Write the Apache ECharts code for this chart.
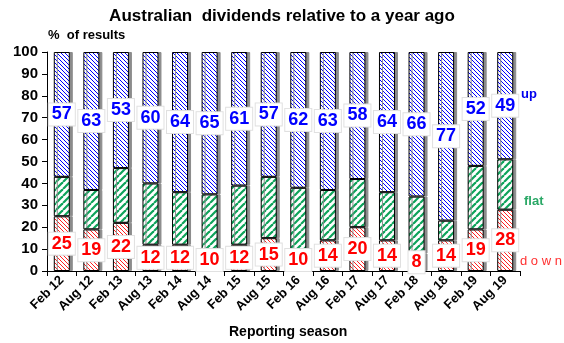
<!DOCTYPE html>
<html><head><meta charset="utf-8">
<script src="https://cdn.jsdelivr.net/npm/echarts@6/dist/echarts.min.js"></script>
<style>html,body{margin:0;padding:0;background:#fff}#c{width:564px;height:343px}</style>
</head><body><div id="c"></div>
<script>
var categories = ['Feb 12','Aug 12','Feb 13','Aug 13','Feb 14','Aug 14','Feb 15','Aug 15','Feb 16','Aug 16','Feb 17','Aug 17','Feb 18','Aug 18','Feb 19','Aug 19'];
var downVals = [25,19,22,12,12,10,12,15,10,14,20,14,8,14,19,28];
var flatVals = [18,18,25,28,24,25,27,28,28,23,22,22,26,9,29,23];
var upVals   = [57,63,53,60,64,65,61,57,62,63,58,64,66,77,52,49];
var yTicks = [0,10,20,30,40,50,60,70,80,90,100];

function hatch(color, size, lw, dir) {
  var c = document.createElement('canvas');
  c.width = size; c.height = size;
  var g = c.getContext('2d');
  g.fillStyle = '#fff'; g.fillRect(0,0,size,size);
  g.strokeStyle = color; g.lineWidth = lw;
  for (var k = -1; k <= 1; k++) {
    g.beginPath();
    if (dir === 'back') { g.moveTo(k*size, 0); g.lineTo(k*size+size, size); }
    else { g.moveTo(k*size, size); g.lineTo(k*size+size, 0); }
    g.stroke();
  }
  return {image: c, repeat: 'repeat'};
}

var chart = echarts.init(document.getElementById('c'));
var lblBase = {
  show: true, position: 'inside', fontFamily: 'Liberation Sans, Arial', fontWeight: 'bold', fontSize: 18,
  backgroundColor: '#fff', borderColor: '#e0e0e0', borderWidth: 1, padding: [3, 3, 1, 3]
};
var itemBase = {borderColor: '#000', borderWidth: 1, shadowColor: '#8c8c8c', shadowOffsetX: 3, shadowOffsetY: 0, shadowBlur: 0};
chart.setOption({
  animation: false,
  textStyle: {fontFamily: 'Liberation Sans, Arial'},
  grid: {left: 47, right: 44, top: 52, bottom: 72},
  title: [{text: 'Australian  dividends relative to a year ago', left: 'center', top: 3,
           textStyle: {fontSize: 17, fontWeight: 'bold', color: '#000', fontFamily: 'Liberation Sans, Arial'}}],
  graphic: [
    {type: 'text', left: 48, top: 29, style: {text: '%  of results', font: 'bold 13px Liberation Sans, Arial', fill: '#000'}},
    {type: 'text', left: 229, top: 325, style: {text: 'Reporting season', font: 'bold 14px Liberation Sans, Arial', fill: '#000'}},
    {type: 'text', left: 521, top: 88, style: {text: 'up', font: 'bold 13px Liberation Sans, Arial', fill: '#0000ee'}},
    {type: 'text', left: 524, top: 195, style: {text: 'flat', font: 'bold 13px Liberation Sans, Arial', fill: '#2aa866'}},
    {type: 'text', left: 520, top: 255, style: {text: 'd o w n', font: '13px Liberation Sans, Arial', fill: '#ff3030'}}
  ],
  xAxis: {
    type: 'category', data: categories,
    axisLine: {lineStyle: {color: '#000', width: 1}},
    axisTick: {show: true, length: 5, lineStyle: {color: '#000'}},
    axisLabel: {rotate: 45, fontSize: 13, fontWeight: 'bold', color: '#000', margin: 7}
  },
  yAxis: {
    type: 'value', min: yTicks[0], max: yTicks[yTicks.length-1], interval: 10,
    axisLine: {show: true, lineStyle: {color: '#000', width: 1}},
    axisTick: {show: true, length: 5, lineStyle: {color: '#000'}},
    splitLine: {show: false},
    axisLabel: {fontSize: 15, fontWeight: 'bold', color: '#000', margin: 9}
  },
  series: [
    {name: 'down', type: 'bar', stack: 's', barWidth: 16, data: downVals,
     itemStyle: Object.assign({color: hatch('#ff2020', 4, 1, 'back')}, itemBase),
     label: Object.assign({color: '#ff0000'}, lblBase)},
    {name: 'flat', type: 'bar', stack: 's', barWidth: 16, data: flatVals,
     itemStyle: Object.assign({color: hatch('#0da35a', 7, 2.2, 'fwd')}, itemBase),
     label: {show: false}},
    {name: 'up', type: 'bar', stack: 's', barWidth: 16, data: upVals,
     itemStyle: Object.assign({color: hatch('#0000ff', 4, 1, 'back')}, itemBase),
     label: Object.assign({color: '#0000ff'}, lblBase)}
  ]
});
</script></body></html>
